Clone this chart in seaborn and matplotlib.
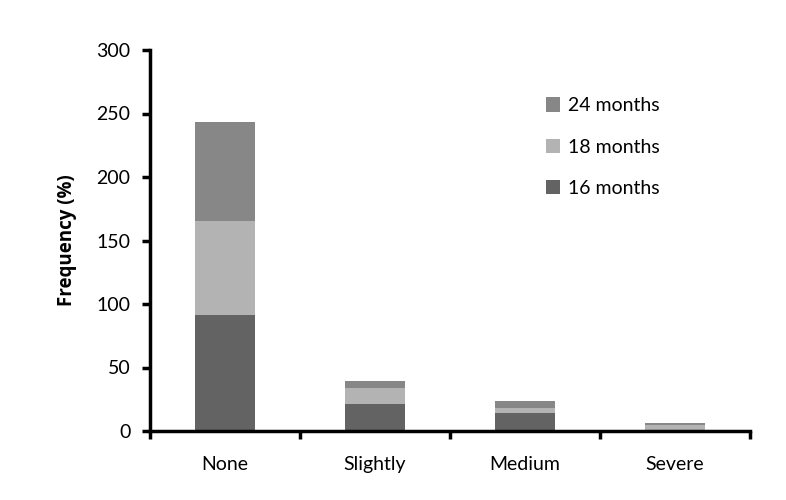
import numpy as np
import pandas as pd
import matplotlib
matplotlib.use("Agg")
import matplotlib.pyplot as plt
import seaborn as sns

categories = ["None", "Slightly", "Medium", "Severe"]
m16 = [91, 21, 14, 0.5]
m18 = [74, 13, 4.5, 4]
m24 = [78, 5, 5, 2]
series = ["24 months", "18 months", "16 months"]
colors = {"16 months": "#636363", "18 months": "#b3b3b3", "24 months": "#878787"}

sns.set_style("white")
plt.rcParams["font.family"] = ["Lato", "DejaVu Sans"]
plt.rcParams["text.color"] = "black"
plt.rcParams["axes.labelcolor"] = "black"
plt.rcParams["xtick.color"] = "black"
plt.rcParams["ytick.color"] = "black"

df = pd.DataFrame({"cat": categories, "16 months": m16, "18 months": m18, "24 months": m24})
# cumulative tops, drawn tallest first so the shorter bars sit on top
df["top16"] = df["16 months"]
df["top18"] = df["top16"] + df["18 months"]
df["top24"] = df["top18"] + df["24 months"]

fig = plt.figure(figsize=(7.86, 5.0), dpi=100)
ax = fig.add_axes([150 / 786, 69 / 500, 600 / 786, 381 / 500])

for s, col in zip(series, ["top24", "top18", "top16"]):
    sns.barplot(data=df, x="cat", y=col, color=colors[s], saturation=1,
                width=0.4, label=s, ax=ax, linewidth=0)

ax.set_xlim(-0.5, 3.5)
ax.set_ylim(0, 300)
ax.set_yticks(np.arange(0, 301, 50))
ax.set_xlabel("")
ax.set_ylabel("Frequency (%)", fontsize=13.5, fontweight="bold", labelpad=14,
              family=["Open Sans", "DejaVu Sans"])

sns.despine(ax=ax)
for sp in ["left", "bottom"]:
    ax.spines[sp].set_linewidth(2.5)
    ax.spines[sp].set_color("black")

ax.tick_params(axis="y", direction="out", length=6, width=2.5, pad=8, labelsize=14, left=True)
ax.tick_params(axis="x", which="major", length=0, pad=18, labelsize=14)
ax.set_xticks(np.arange(-0.5, 4, 1), minor=True)
ax.tick_params(axis="x", which="minor", direction="out", length=6, width=2.5, bottom=True)

ax.legend(loc="upper left", bbox_to_anchor=(0.63, 0.922), frameon=False, fontsize=14,
          labelspacing=1.25, handlelength=0.75, handleheight=0.75, handletextpad=0.4)

fig.savefig("out.png", dpi=100)
